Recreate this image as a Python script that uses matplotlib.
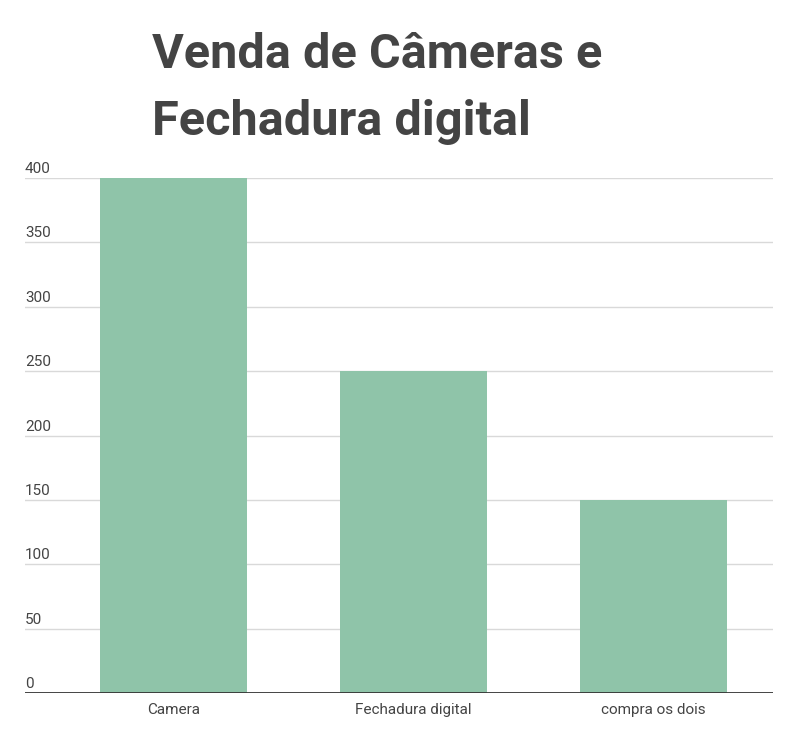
import matplotlib.pyplot as plt

categories = ['Camera', 'Fechadura digital', 'compra os dois']
vendas = [400, 250, 150]
y_ticks = [0, 50, 100, 150, 200, 250, 300, 350, 400]

plt.rcParams['font.family'] = ['Roboto', 'DejaVu Sans']

fig = plt.figure(figsize=(7.96, 7.43), dpi=100)
ax = fig.add_axes([25 / 796, 1 - 693 / 743, 748 / 796, 515 / 743])

ax.bar(range(len(categories)), vendas, width=0.6125, color='#8fc4a9', zorder=2)
ax.set_xlim(-0.619, 2.498)
ax.set_ylim(0, 400)

# gridlines
for t in y_ticks[1:]:
    ax.axhline(t, color='#d9d9d9', linewidth=1, zorder=1)
ax.axhline(0, color='#333333', linewidth=2, zorder=3)

# y labels sit above the gridline, left aligned
for t in y_ticks:
    ax.text(0, t + 1.5, str(t), transform=ax.get_yaxis_transform(),
            ha='left', va='bottom', fontsize=11, color='#444444')

ax.set_yticks([])
ax.set_xticks(range(len(categories)))
ax.set_xticklabels(categories, fontsize=11, color='#444444')
ax.tick_params(axis='x', length=0, pad=7)
for s in ax.spines.values():
    s.set_visible(False)

fig.text(152 / 796, 1 - 68 / 743, 'Venda de Câmeras e', fontsize=35,
         fontweight='bold', color='#444444', ha='left', va='baseline')
fig.text(152 / 796, 1 - 135 / 743, 'Fechadura digital', fontsize=35,
         fontweight='bold', color='#444444', ha='left', va='baseline')

fig.savefig('out.png', dpi=100)
